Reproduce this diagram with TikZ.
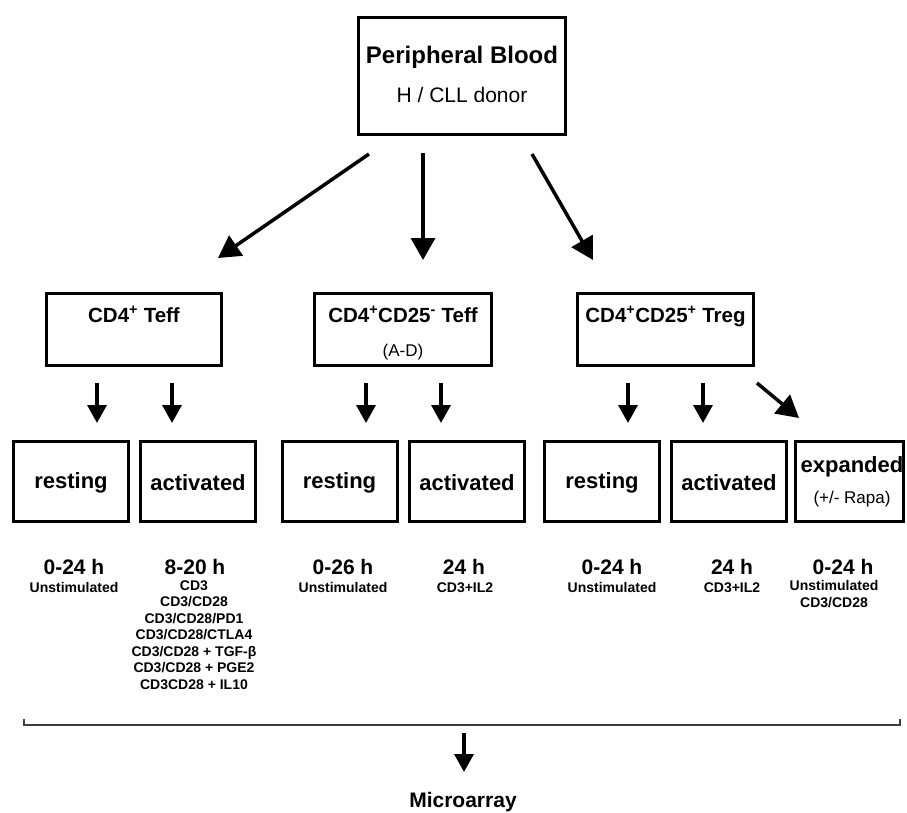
\documentclass[tikz,border=0pt]{standalone}
\usepackage{fontspec}
\setmainfont{Liberation Sans}
\usetikzlibrary{arrows.meta}
\begin{document}
\begin{tikzpicture}[x=1pt,y=-1pt,
  boxnode/.style={draw=black, line width=3pt, inner sep=0pt},
  arr/.style={line width=3.5pt, -{Triangle[length=18pt,width=19pt]}},
  bigarr/.style={line width=3.5pt, -{Triangle[length=22pt,width=24pt]}},
  titletxt/.style={anchor=base, inner sep=0pt, font=\bfseries\fontsize{24}{28}\selectfont},
  subtxt/.style={anchor=base, inner sep=0pt, font=\fontsize{21}{24}\selectfont},
  poptxt/.style={anchor=base, inner sep=0pt, font=\bfseries\fontsize{20.5}{24}\selectfont},
  smallreg/.style={anchor=base, inner sep=0pt, font=\fontsize{17}{20}\selectfont},
  statetxt/.style={anchor=base, inner sep=0pt, font=\bfseries\fontsize{22}{26}\selectfont},
  timetxt/.style={anchor=base, inner sep=0pt, font=\bfseries\fontsize{21}{24}\selectfont},
  condtxt/.style={anchor=north, inner sep=0pt, align=center, execute at begin node=\strut, font=\bfseries\fontsize{14}{16.5}\selectfont},
  bracket/.style={line width=1.5pt, draw=black!75}
]
\useasboundingbox (0,0) rectangle (907,812);

% top box
\node[boxnode, minimum width=207pt, minimum height=117pt] (pb) at (462,76) {};
\node[titletxt] (pbt) at (462,63) {Peripheral Blood};
\node[subtxt] (pbs) at (462,102) {H / CLL donor};

% population boxes
\node[boxnode, minimum width=175pt, minimum height=72pt] (t1) at (134,329.5) {};
\node[boxnode, minimum width=177pt, minimum height=72pt] (t2) at (403,329.5) {};
\node[boxnode, minimum width=176pt, minimum height=72pt] (t3) at (665.5,329.5) {};
\node[poptxt] (t1t) at (134,322) {CD4\textsuperscript{+} Teff};
\node[poptxt] (t2t) at (403,322) {CD4\textsuperscript{+}CD25\textsuperscript{-} Teff};
\node[smallreg] (t2s) at (403,356) {(A-D)};
\node[poptxt] (t3t) at (665.5,322) {CD4\textsuperscript{+}CD25\textsuperscript{+} Treg};

% arrows from top
\coordinate (a1s) at (369,154); \coordinate (a1e) at (218,258);
\coordinate (a2s) at (423,153); \coordinate (a2e) at (423,260);
\coordinate (a3s) at (532,154); \coordinate (a3e) at (593,260);
\draw[bigarr] (a1s) -- (a1e);
\draw[bigarr] (a2s) -- (a2e);
\draw[bigarr] (a3s) -- (a3e);

% state boxes
\node[boxnode, minimum width=115pt, minimum height=80pt] (rA) at (71,481.5) {};
\node[boxnode, minimum width=115pt, minimum height=80pt] (rB) at (198,481.5) {};
\node[boxnode, minimum width=115pt, minimum height=80pt] (rC) at (339.5,481.5) {};
\node[boxnode, minimum width=115pt, minimum height=80pt] (rD) at (467,481.5) {};
\node[boxnode, minimum width=115pt, minimum height=80pt] (rE) at (602,481.5) {};
\node[boxnode, minimum width=115pt, minimum height=80pt] (rF) at (729,481.5) {};
\node[boxnode, minimum width=108pt, minimum height=80pt] (rG) at (849.5,481.5) {};
\node[statetxt] (rAt) at (71,488) {resting};
\node[statetxt] (rBt) at (198,490) {activated};
\node[statetxt] (rCt) at (339.5,488) {resting};
\node[statetxt] (rDt) at (467,490) {activated};
\node[statetxt] (rEt) at (602,488) {resting};
\node[statetxt] (rFt) at (729,490) {activated};
\node[statetxt] (rGt) at (852,472) {expanded};
\node[smallreg] (rGs) at (852,503) {(+/- Rapa)};

% small arrows
\coordinate (b1s) at (97,383);  \coordinate (b1e) at (97,423);
\coordinate (b2s) at (172,383); \coordinate (b2e) at (172,423);
\coordinate (b3s) at (366,383); \coordinate (b3e) at (366,423);
\coordinate (b4s) at (441,383); \coordinate (b4e) at (441,423);
\coordinate (b5s) at (628,383); \coordinate (b5e) at (628,423);
\coordinate (b6s) at (703,383); \coordinate (b6e) at (703,423);
\coordinate (b7s) at (757,383); \coordinate (b7e) at (799,418);
\draw[arr] (b1s) -- (b1e);
\draw[arr] (b2s) -- (b2e);
\draw[arr] (b3s) -- (b3e);
\draw[arr] (b4s) -- (b4e);
\draw[arr] (b5s) -- (b5e);
\draw[arr] (b6s) -- (b6e);
\draw[bigarr] (b7s) -- (b7e);

% time labels
\node[timetxt] (hA) at (74,574) {0-24 h};
\node[condtxt] (cA) at (74,580.5) {Unstimulated};
\node[timetxt] (hB) at (195,574) {8-20 h};
\node[condtxt] (cB) at (194,580.5) {CD3\\CD3/CD28\\CD3/CD28/PD1\\CD3/CD28/CTLA4\\CD3/CD28 + TGF-β\\CD3/CD28 + PGE2\\CD3CD28 + IL10};
\node[timetxt] (hC) at (343,574) {0-26 h};
\node[condtxt] (cC) at (343,580.5) {Unstimulated};
\node[timetxt] (hD) at (464,574) {24 h};
\node[condtxt] (cD) at (465,580.5) {CD3+IL2};
\node[timetxt] (hE) at (612,574) {0-24 h};
\node[condtxt] (cE) at (612,580.5) {Unstimulated};
\node[timetxt] (hF) at (732,574) {24 h};
\node[condtxt] (cF) at (732,580.5) {CD3+IL2};
\node[timetxt] (hG) at (843,574) {0-24 h};
\node[condtxt] (cG) at (834,580.5) {Unstimulated\\CD3/CD28};

% bracket
\coordinate (k1) at (24,719); \coordinate (k2) at (24,725);
\coordinate (k3) at (900,725); \coordinate (k4) at (900,719);
\draw[bracket] (k1) -- (k2) -- (k3) -- (k4);

% final arrow
\coordinate (ms) at (464,733); \coordinate (me) at (464,772);
\draw[arr] (ms) -- (me);
\node[timetxt] (mic) at (463,807) {Microarray};
\end{tikzpicture}
\end{document}
